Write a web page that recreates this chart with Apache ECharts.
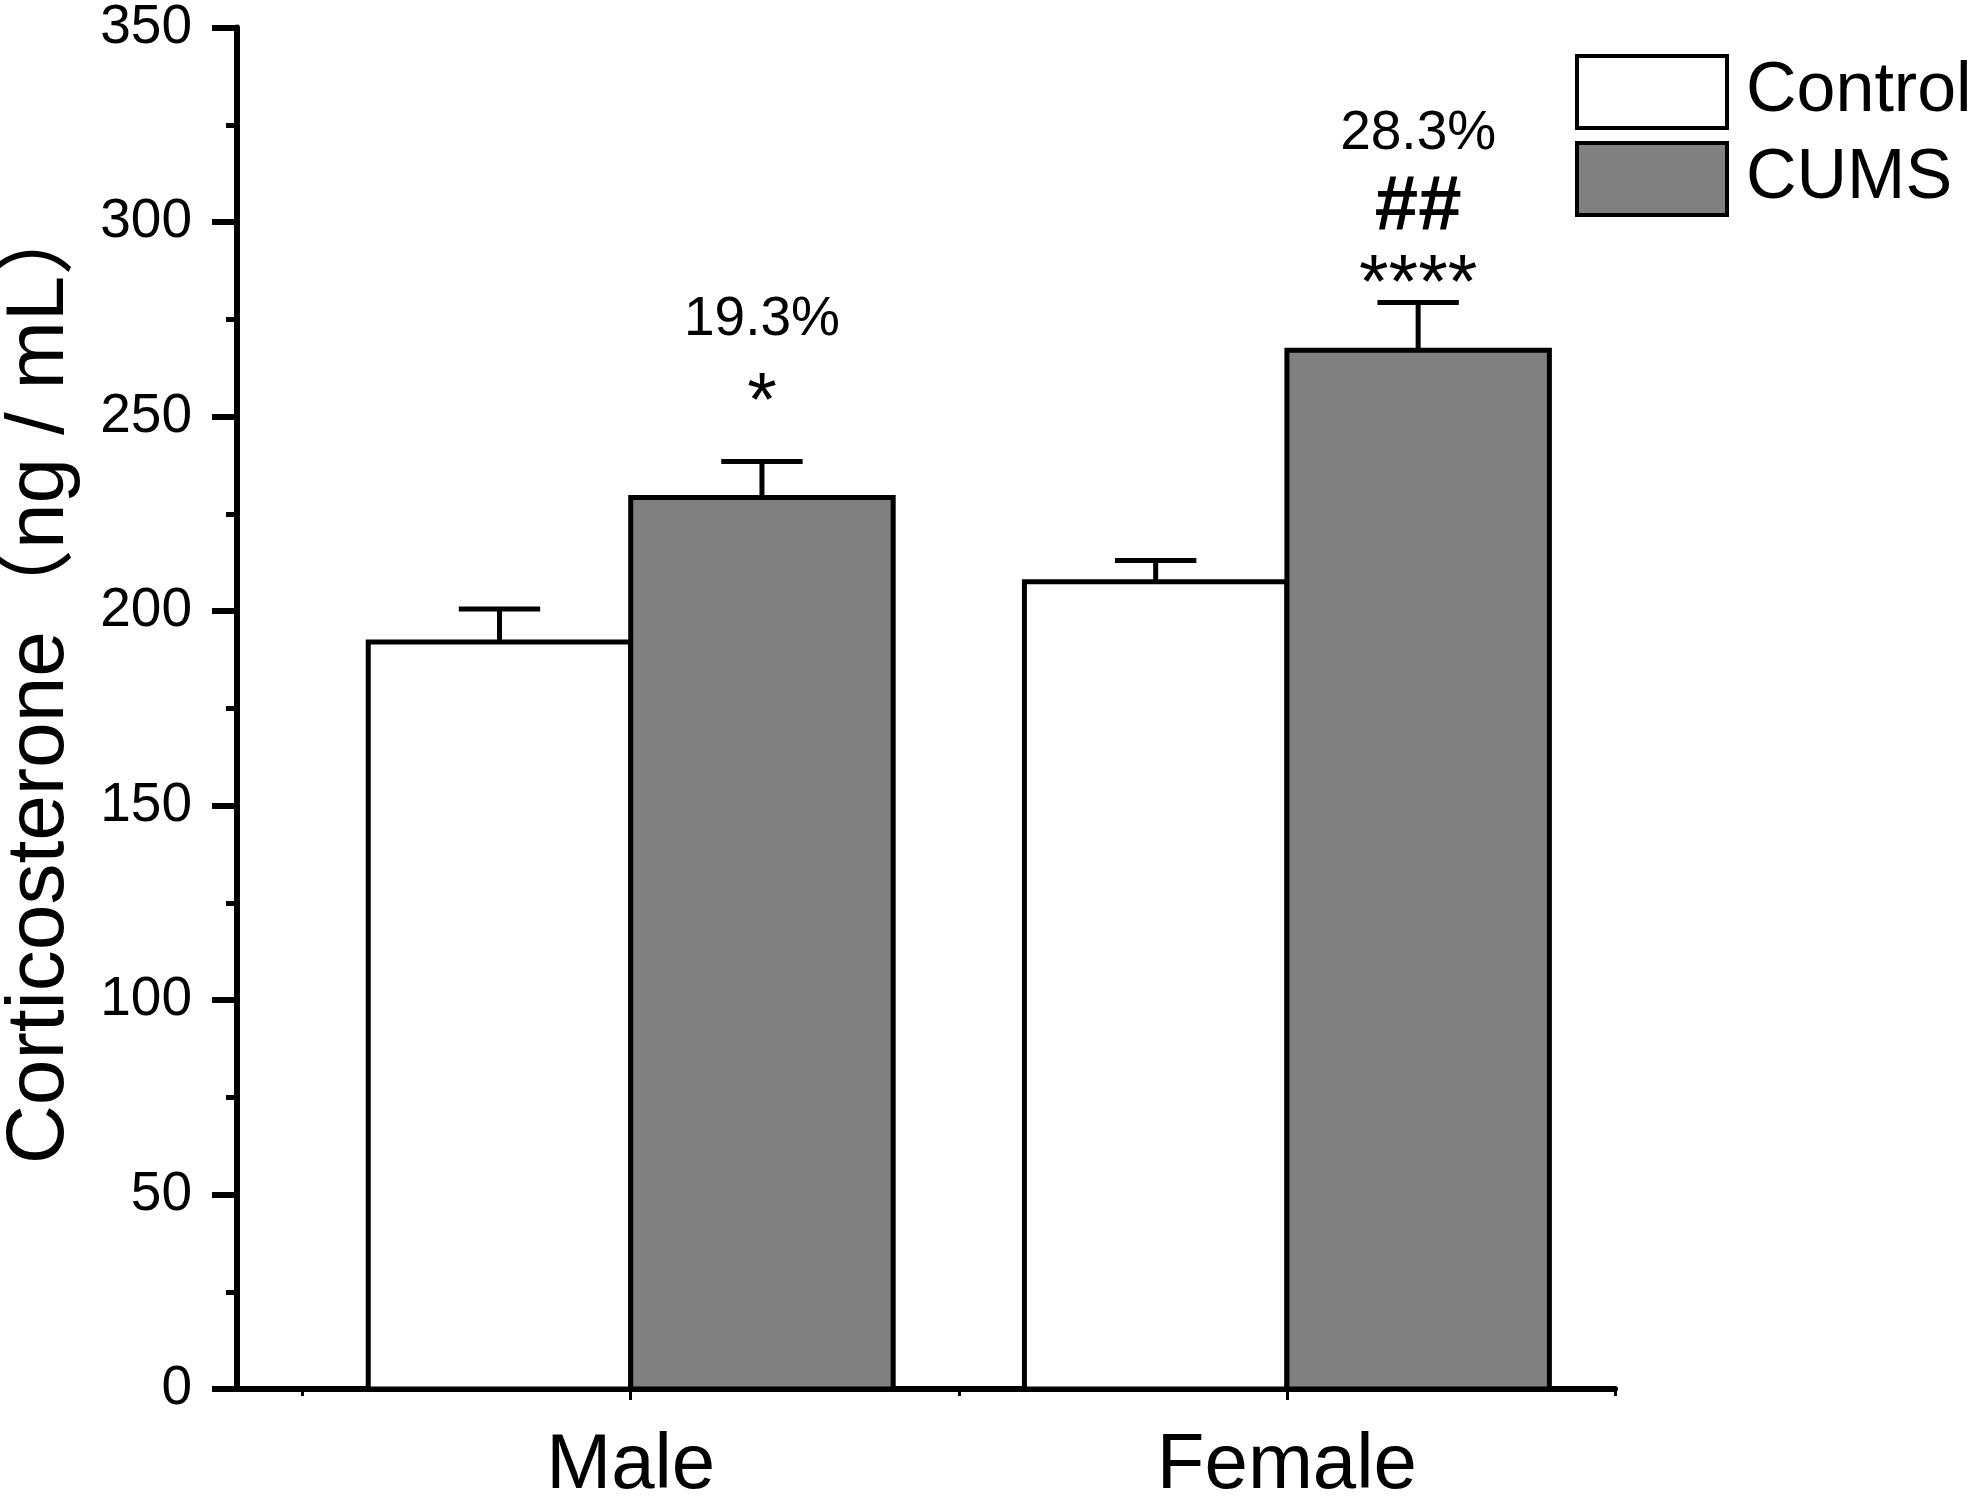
<!DOCTYPE html>
<html>
<head>
<meta charset="utf-8">
<title>Corticosterone</title>
<script src="https://cdn.jsdelivr.net/npm/echarts@6/dist/echarts.min.js"></script>
<style>
    html, body { margin: 0; padding: 0; background: #fff; }
    #chart { width: 1983px; height: 1506px; }
</style>
</head>
<body>
<div id="chart"></div>
<script>
// data
var categories = ['Male', 'Female'];
var group_names = ['Control', 'CUMS'];
var control_mean = [192, 207.5];
var control_se = [8.5, 5.5];
var cums_mean = [229.2, 267];
var cums_se = [9.2, 12.3];
var pct_labels = ['19.3%', '28.3%'];
var hash_labels = ['', '##'];
var star_labels = ['*', '****'];
var y_ticks = [0, 50, 100, 150, 200, 250, 300, 350];
var y_title = 'Corticosterone（ng / mL）';

var FONT = '"Liberation Sans", Arial, "Noto Sans CJK SC", sans-serif';
var BAR_W = 0.4;

init_chart();

function make_data(mean, se) {
    var arr = [];
    for (var i = 0; i < categories.length; i++) {
        arr.push([i + 1, mean[i], se[i], i]);
    }
    return arr;
}

// one bar + upper error bar (+ the significance texts for CUMS)
function bar_renderer(offset, fill, with_labels) {
    return function (params, api) {
        var x = api.value(0), v = api.value(1), se = api.value(2), idx = api.value(3);
        var x0 = x + offset, xc = x0 + BAR_W / 2;
        var p0 = api.coord([x0, v]);
        var p1 = api.coord([x0 + BAR_W, 0]);
        var top = api.coord([xc, v + se]);
        var capL = api.coord([xc - 0.062, v + se]);
        var capR = api.coord([xc + 0.062, v + se]);
        var children = [
            {
                type: 'rect',
                shape: {x: p0[0], y: p0[1], width: p1[0] - p0[0], height: p1[1] - p0[1]},
                style: {fill: fill, stroke: '#000', lineWidth: 5}
            },
            {
                type: 'line',
                shape: {x1: top[0], y1: p0[1], x2: top[0], y2: top[1]},
                style: {stroke: '#000', lineWidth: 5}
            },
            {
                type: 'line',
                shape: {x1: capL[0], y1: capL[1], x2: capR[0], y2: capR[1]},
                style: {stroke: '#000', lineWidth: 5}
            }
        ];
        if (with_labels) {
            var has_hash = hash_labels[idx] !== '';
            var star_y = top[1] - (has_hash ? 16 : 58);
            var pct_y = top[1] - (has_hash ? 169 : 142);
            children.push({
                type: 'text',
                style: {text: star_labels[idx], x: top[0], y: star_y, align: 'center', verticalAlign: 'middle',
                    font: '76px ' + FONT, fill: '#000'}
            });
            if (has_hash) {
                children.push({
                    type: 'text',
                    style: {text: hash_labels[idx], x: top[0], y: top[1] - 94, align: 'center', verticalAlign: 'middle',
                        font: 'bold 78px ' + FONT, fill: '#000'}
                });
            }
            children.push({
                type: 'text',
                style: {text: pct_labels[idx], x: top[0], y: pct_y, align: 'center', verticalAlign: 'middle',
                    font: '55px ' + FONT, fill: '#000'}
            });
        }
        return {type: 'group', children: children};
    };
}

function init_chart() {
    var chart = echarts.init(document.getElementById('chart'), null, {renderer: 'canvas'});
    var option = {
        backgroundColor: '#fff',
        animation: false,
        textStyle: {fontFamily: FONT},
        grid: {left: 237, right: 368, top: 25, bottom: 117},
        // y axis title, placed by hand so it sits where the original one is
        graphic: [{
            type: 'text',
            x: 40,
            y: 679,
            rotation: Math.PI / 2,
            style: {text: y_title, font: '82px ' + FONT, fill: '#000', align: 'center', verticalAlign: 'middle'}
        }],
        legend: {
            orient: 'vertical',
            left: 1575,
            top: 54,
            padding: 0,
            itemWidth: 150,
            itemHeight: 72,
            itemGap: 11,
            textStyle: {fontSize: 70, color: '#000', fontFamily: FONT, padding: [0, 0, 0, 14]},
            data: [
                {name: group_names[0], icon: 'rect', itemStyle: {color: '#fff', borderColor: '#000', borderWidth: 4}},
                {name: group_names[1], icon: 'rect', itemStyle: {color: '#808080', borderColor: '#000', borderWidth: 4}}
            ]
        },
        xAxis: [
            {
                type: 'value',
                min: 0.4,
                max: 2.5,
                splitLine: {show: false},
                axisLine: {lineStyle: {color: '#000', width: 6}},
                axisTick: {customValues: [1, 2], length: 11, lineStyle: {color: '#000', width: 3}},
                axisLabel: {
                    customValues: [1, 2],
                    margin: 38,
                    fontSize: 78,
                    color: '#000',
                    formatter: function (v) { return categories[Math.round(v) - 1]; }
                }
            },
            {
                type: 'value',
                min: 0.4,
                max: 2.5,
                position: 'bottom',
                splitLine: {show: false},
                axisLine: {show: false},
                axisTick: {customValues: [0.5, 1.5, 2.5], length: 7, lineStyle: {color: '#000', width: 3}},
                axisLabel: {show: false}
            }
        ],
        yAxis: {
            type: 'value',
            min: y_ticks[0],
            max: y_ticks[y_ticks.length - 1],
            interval: 50,
            splitLine: {show: false},
            axisLine: {lineStyle: {color: '#000', width: 6}},
            axisTick: {length: 25, lineStyle: {color: '#000', width: 6}},
            minorTick: {show: true, splitNumber: 2, length: 11, lineStyle: {color: '#000', width: 5}},
            axisLabel: {fontSize: 55, color: '#000', margin: 45}
        },
        series: [
            {
                name: group_names[0],
                type: 'custom',
                itemStyle: {color: '#fff', borderColor: '#000', borderWidth: 4},
                encode: {x: 0, y: 1},
                renderItem: bar_renderer(-BAR_W, '#fff', false),
                data: make_data(control_mean, control_se)
            },
            {
                name: group_names[1],
                type: 'custom',
                itemStyle: {color: '#808080', borderColor: '#000', borderWidth: 4},
                encode: {x: 0, y: 1},
                renderItem: bar_renderer(0, '#808080', true),
                data: make_data(cums_mean, cums_se)
            }
        ]
    };
    chart.setOption(option);
}
</script>
</body>
</html>
